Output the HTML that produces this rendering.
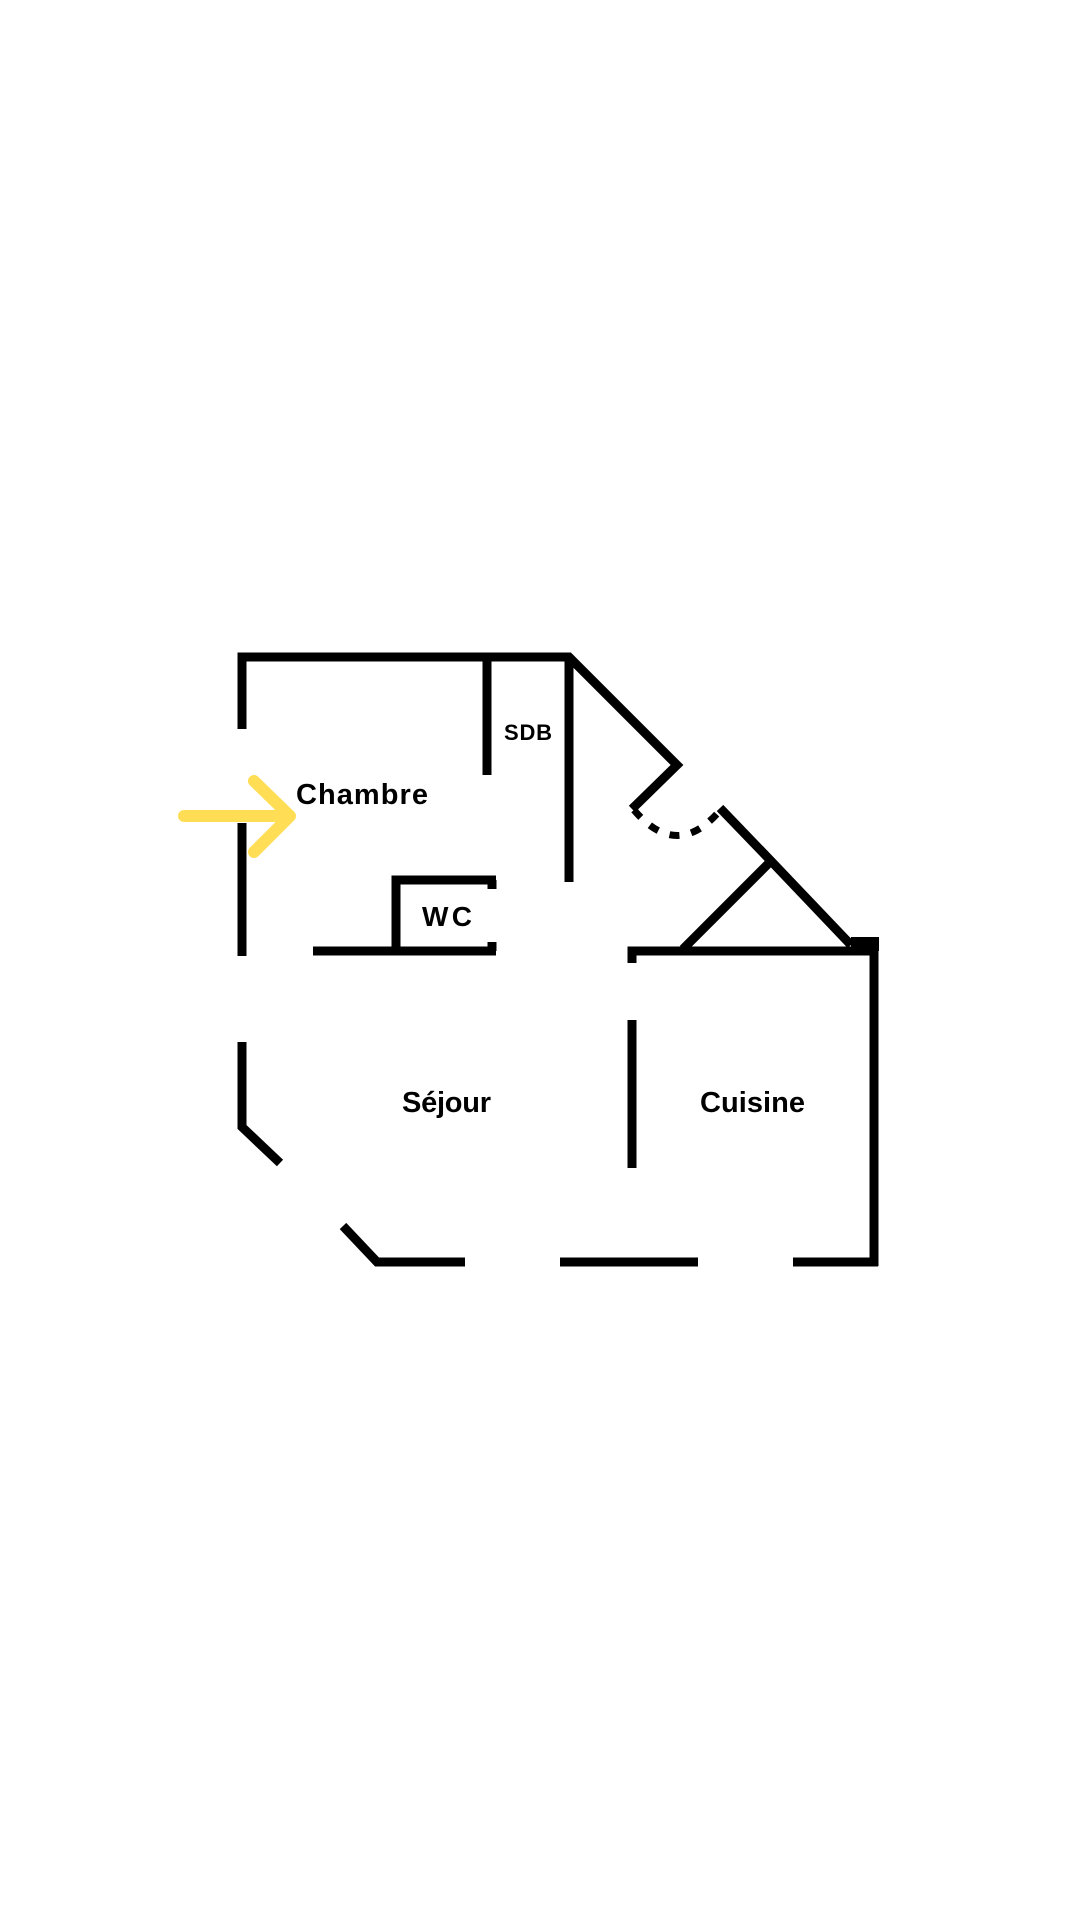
<!DOCTYPE html>
<html><head><meta charset="utf-8"><style>html,body{margin:0;padding:0;background:#fff}svg{display:block}</style></head>
<body>
<svg width="1080" height="1920" viewBox="0 0 1080 1920" xmlns="http://www.w3.org/2000/svg">
<rect width="1080" height="1920" fill="#fff"/>
<g stroke="#000" stroke-width="9" fill="none" stroke-linecap="butt" stroke-linejoin="miter">
<polyline points="242,729 242,657 569,657 677,765 632,809"/>
<line x1="487" y1="657" x2="487" y2="775"/>
<line x1="569" y1="657" x2="569" y2="882"/>
<path d="M634,810 Q678,862 722,808" stroke-dasharray="10,12" stroke-width="7"/>
<polyline points="720,808 771,861 851,945"/>
<line x1="771" y1="861" x2="683" y2="949"/>
<polyline points="632,963 632,951 874,951"/>
<rect x="851" y="937" width="28" height="14" fill="#000" stroke="none"/>
<line x1="874" y1="937" x2="874" y2="1266"/>
<polyline points="343,1226 377,1262 465,1262"/>
<line x1="560" y1="1262" x2="698" y2="1262"/>
<line x1="793" y1="1262" x2="878" y2="1262"/>
<polyline points="242,1042 242,1127 280,1163"/>
<line x1="242" y1="823" x2="242" y2="956"/>
<line x1="313" y1="951" x2="496" y2="951"/>
<polyline points="396,951 396,880 496,880"/>
<line x1="492" y1="880" x2="492" y2="889"/>
<line x1="492" y1="942" x2="492" y2="951"/>
<line x1="632" y1="1020" x2="632" y2="1168"/>
</g>
<g stroke="#FFDD55" stroke-width="12" fill="none" stroke-linecap="round" stroke-linejoin="round">
<line x1="184" y1="816" x2="289" y2="816"/>
<polyline points="254,781 290,816 254,852"/>
</g>
<g font-family="Liberation Sans, sans-serif" font-weight="bold" fill="#000">
<text x="296" y="804" font-size="29" textLength="132" lengthAdjust="spacing">Chambre</text>
<text x="504" y="740" font-size="22" textLength="48" lengthAdjust="spacing">SDB</text>
<text x="422" y="926" font-size="28" textLength="50" lengthAdjust="spacing">WC</text>
<text x="402" y="1112" font-size="29" textLength="89" lengthAdjust="spacing">Séjour</text>
<text x="700" y="1112" font-size="29" textLength="105" lengthAdjust="spacing">Cuisine</text>
</g>
</svg>
</body></html>
